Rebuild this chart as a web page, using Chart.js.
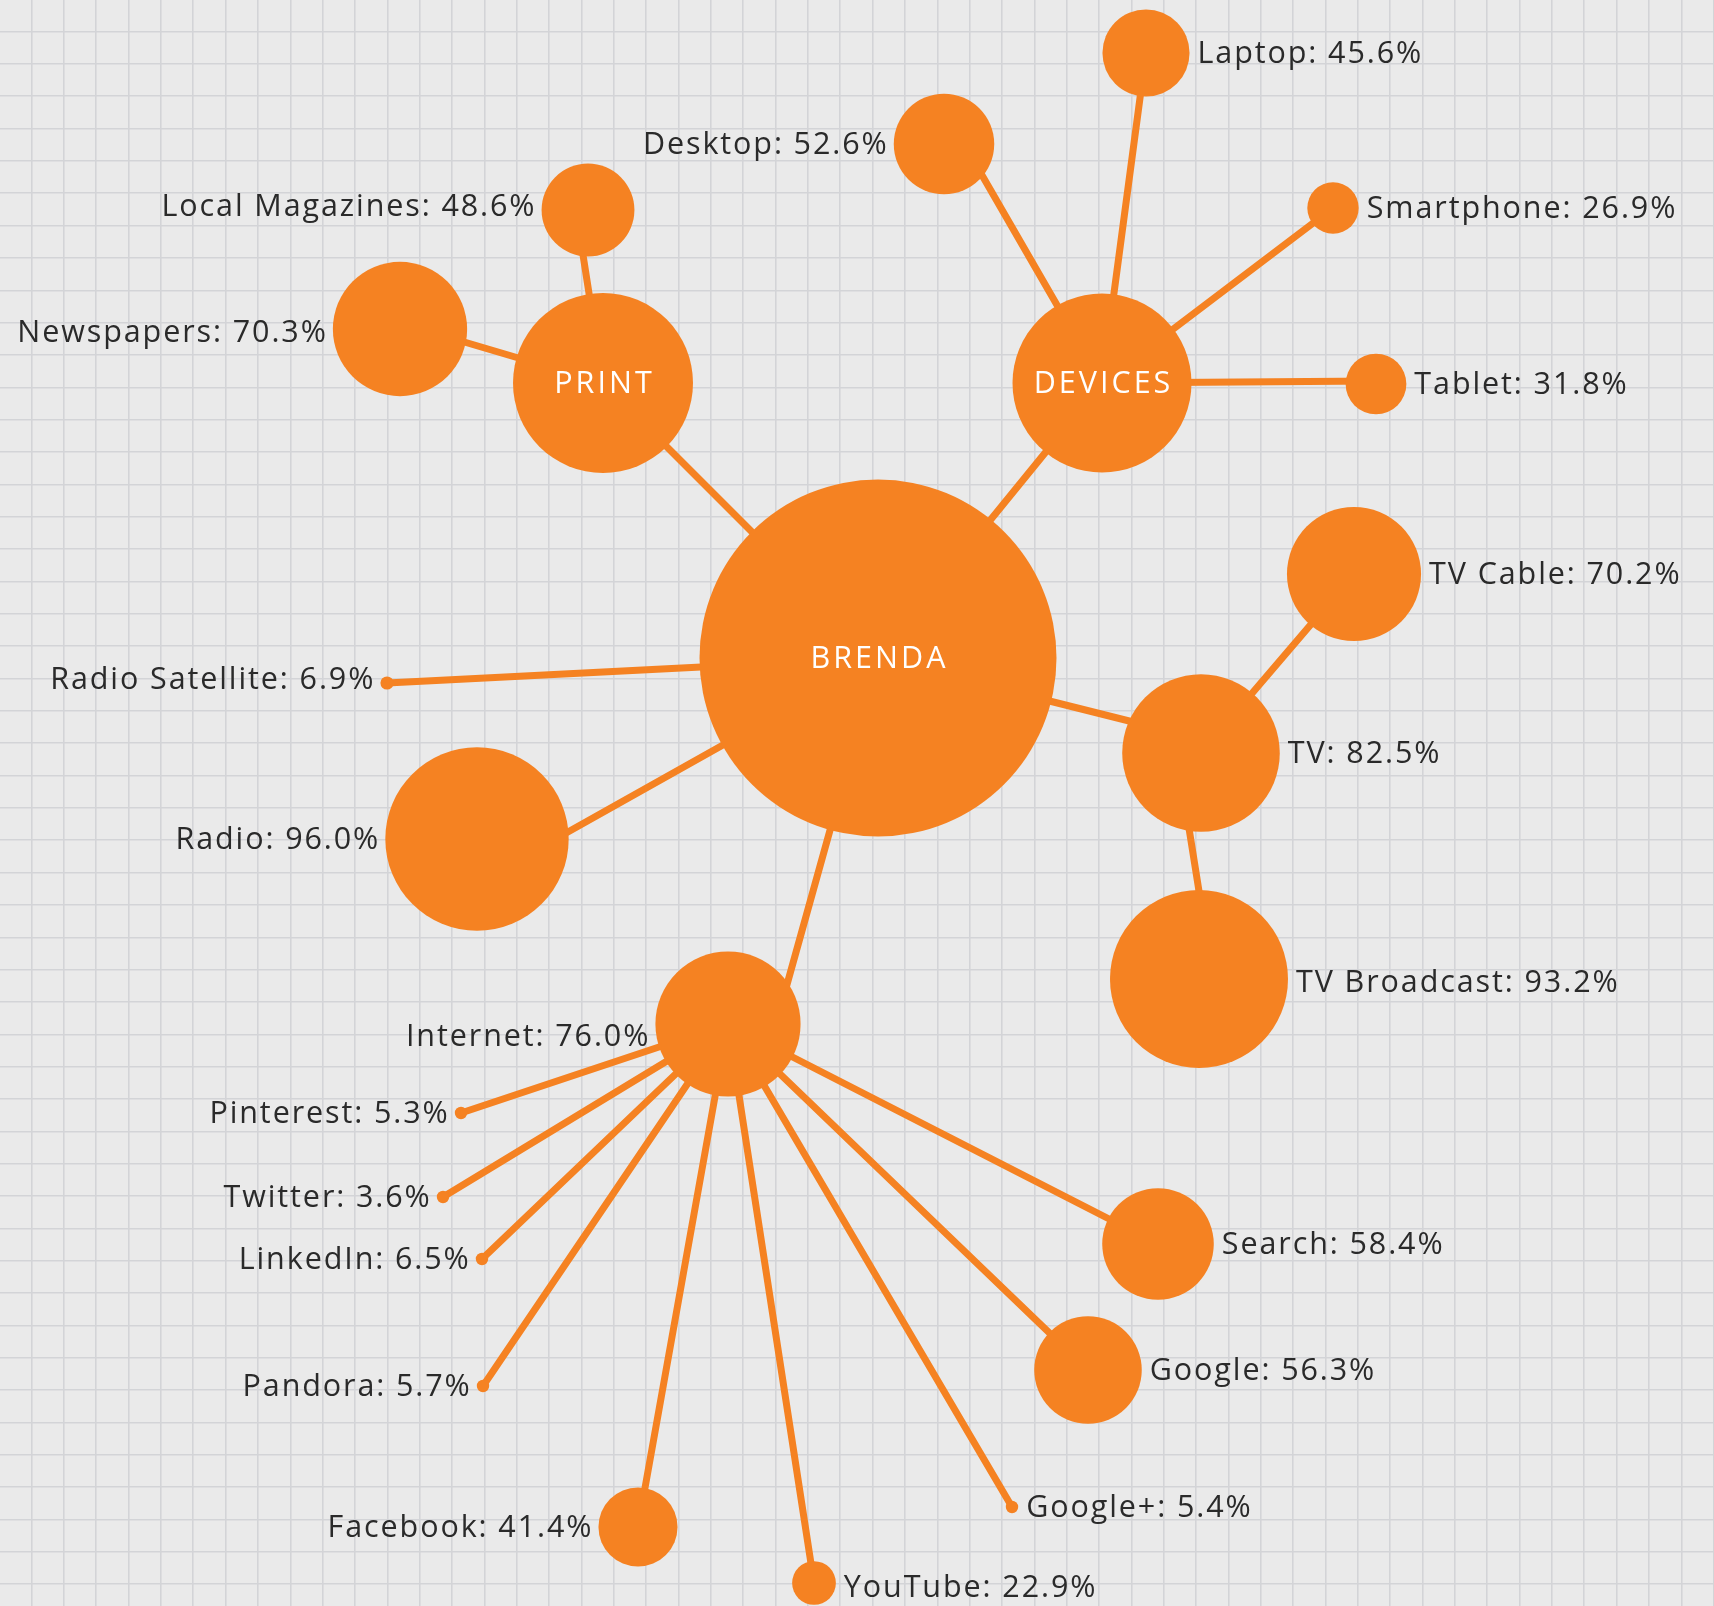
<!DOCTYPE html>
<html>
<head>
<meta charset="utf-8">
<script src="https://cdn.jsdelivr.net/npm/chart.js@4.4.0/dist/chart.umd.min.js"></script>
<style>
  html, body { margin: 0; padding: 0; background: #eaeaea; }
  #wrap { width: 1714px; height: 1606px; position: relative; }
</style>
</head>
<body>
<div id="wrap"><canvas id="mediaMap"></canvas></div>
<script>
// media usage map - nodes, their share and who they hang off
const nodes = ['BRENDA', 'PRINT', 'DEVICES', 'TV', 'Radio', 'Radio Satellite', 'Internet',
  'Local Magazines', 'Newspapers', 'Desktop', 'Laptop', 'Smartphone', 'Tablet',
  'TV Cable', 'TV Broadcast', 'Pinterest', 'Twitter', 'LinkedIn', 'Pandora',
  'Facebook', 'YouTube', 'Google+', 'Google', 'Search'];
const values = [null, null, null, 82.5, 96.0, 6.9, 76.0,
  48.6, 70.3, 52.6, 45.6, 26.9, 31.8,
  70.2, 93.2, 5.3, 3.6, 6.5, 5.7,
  41.4, 22.9, 5.4, 56.3, 58.4];
const parents = [null, 'BRENDA', 'BRENDA', 'BRENDA', 'BRENDA', 'BRENDA', 'BRENDA',
  'PRINT', 'PRINT', 'DEVICES', 'DEVICES', 'DEVICES', 'DEVICES',
  'TV', 'TV', 'Internet', 'Internet', 'Internet', 'Internet',
  'Internet', 'Internet', 'Internet', 'Internet', 'Internet'];

// where each node sits on the sheet, and which side its label goes.
// tip / base nudge where the connector lands (the original links are not dead centre)
const layout = {
  'BRENDA':          { x: 878,  y: 658,  side: 'center', r: 178.5 },
  'PRINT':           { x: 603,  y: 383,  side: 'center', r: 90 },
  'DEVICES':         { x: 1102, y: 383,  side: 'center', r: 89.5 },
  'TV':              { x: 1201, y: 753,  side: 'right', tip: [0, -14] },
  'Radio':           { x: 477,  y: 839,  side: 'left', tip: [0, 44] },
  'Radio Satellite': { x: 387,  y: 683,  side: 'left', dy: -4 },
  'Internet':        { x: 728,  y: 1024, side: 'left', dy: 12, tip: [48, 0] },
  'Local Magazines': { x: 588,  y: 210,  side: 'left', dy: -4, tip: [-12, 0] },
  'Newspapers':      { x: 400,  y: 329,  side: 'left', dy: 3, tip: [0, -6] },
  'Desktop':         { x: 944,  y: 144,  side: 'left', tip: [20, 0] },
  'Laptop':          { x: 1146, y: 53,   side: 'right' },
  'Smartphone':      { x: 1333, y: 208,  side: 'right' },
  'Tablet':          { x: 1376, y: 384,  side: 'right', tip: [0, -3] },
  'TV Cable':        { x: 1354, y: 574,  side: 'right' },
  'TV Broadcast':    { x: 1199, y: 979,  side: 'right', dy: 3, tip: [14, 0], base: [-24, 0] },
  'Pinterest':       { x: 461,  y: 1113, side: 'left' },
  'Twitter':         { x: 443,  y: 1197, side: 'left' },
  'LinkedIn':        { x: 482,  y: 1259, side: 'left' },
  'Pandora':         { x: 483,  y: 1386, side: 'left' },
  'Facebook':        { x: 638,  y: 1527, side: 'left' },
  'YouTube':         { x: 814,  y: 1583, side: 'right', dy: 4 },
  'Google+':         { x: 1012, y: 1507, side: 'right' },
  'Google':          { x: 1088, y: 1370, side: 'right' },
  'Search':          { x: 1158, y: 1244, side: 'right' }
};

const ORANGE = '#f58222';
const TEXT = '#2a2a2a';
const FONT = '30.5px "Open Sans", sans-serif';
const SPACING = 1.9, HUB_SPACING = 3;
const W = 1714, H = 1606;

function radiusOf(i) {
  const l = layout[nodes[i]];
  if (l.r) return l.r;
  return Math.max(6.2, values[i] * 0.955);
}

function gridTicks(max) {
  const out = [];
  for (let v = 31.5; v < max; v += 32.35) out.push({ value: v });
  return out;
}

const linkSets = [];
nodes.forEach((name, i) => {
  if (!parents[i]) return;
  const a = layout[parents[i]], b = layout[name];
  const base = b.base || [0, 0], tip = b.tip || [0, 0];
  linkSets.push({
    type: 'line',
    data: [{ x: a.x + base[0], y: a.y + base[1] }, { x: b.x + tip[0], y: b.y + tip[1] }],
    borderColor: ORANGE,
    borderWidth: 7,
    borderCapStyle: 'round',
    pointRadius: 0,
    fill: false,
    order: 2
  });
});

const bubbleSet = {
  type: 'bubble',
  data: nodes.map((name, i) => ({ x: layout[name].x, y: layout[name].y, r: radiusOf(i) })),
  backgroundColor: ORANGE,
  borderWidth: 0,
  order: 1
};

const labelPlugin = {
  id: 'nodeLabels',
  afterDatasetsDraw(chart) {
    const ctx = chart.ctx;
    const meta = chart.getDatasetMeta(chart.data.datasets.length - 1);
    ctx.save();
    ctx.font = FONT;
    ctx.textBaseline = 'middle';
    meta.data.forEach((pt, i) => {
      const l = layout[nodes[i]];
      const r = radiusOf(i);
      const dy = (l.dy || 0) + 1;
      if (l.side === 'center') {
        ctx.fillStyle = '#ffffff';
        ctx.textAlign = 'center';
        ctx.letterSpacing = HUB_SPACING + 'px';
        ctx.fillText(nodes[i], pt.x + HUB_SPACING / 2, pt.y + dy);
        return;
      }
      const txt = nodes[i] + ': ' + values[i].toFixed(1) + '%';
      ctx.fillStyle = TEXT;
      ctx.letterSpacing = SPACING + 'px';
      if (l.side === 'right') {
        ctx.textAlign = 'left';
        ctx.fillText(txt, pt.x + r + 8, pt.y + dy);
      } else {
        ctx.textAlign = 'right';
        ctx.fillText(txt, pt.x - r - 7 + SPACING, pt.y + dy);
      }
    });
    ctx.restore();
  }
};

const axisOpts = (max, reverse) => ({
  type: 'linear',
  min: 0,
  max: max,
  reverse: reverse,
  grid: { color: '#d3d4d7', lineWidth: 1.6, drawTicks: false },
  border: { display: false },
  ticks: { display: false },
  afterBuildTicks: s => { s.ticks = gridTicks(max); }
});

new Chart(document.getElementById('mediaMap'), {
  type: 'bubble',
  data: { datasets: [...linkSets, bubbleSet] },
  options: {
    responsive: true,
    maintainAspectRatio: false,
    animation: false,
    events: [],
    layout: { padding: 0, autoPadding: false },
    plugins: { legend: { display: false }, tooltip: { enabled: false } },
    scales: { x: axisOpts(W, false), y: axisOpts(H, true) }
  },
  plugins: [labelPlugin]
});
</script>
</body>
</html>
